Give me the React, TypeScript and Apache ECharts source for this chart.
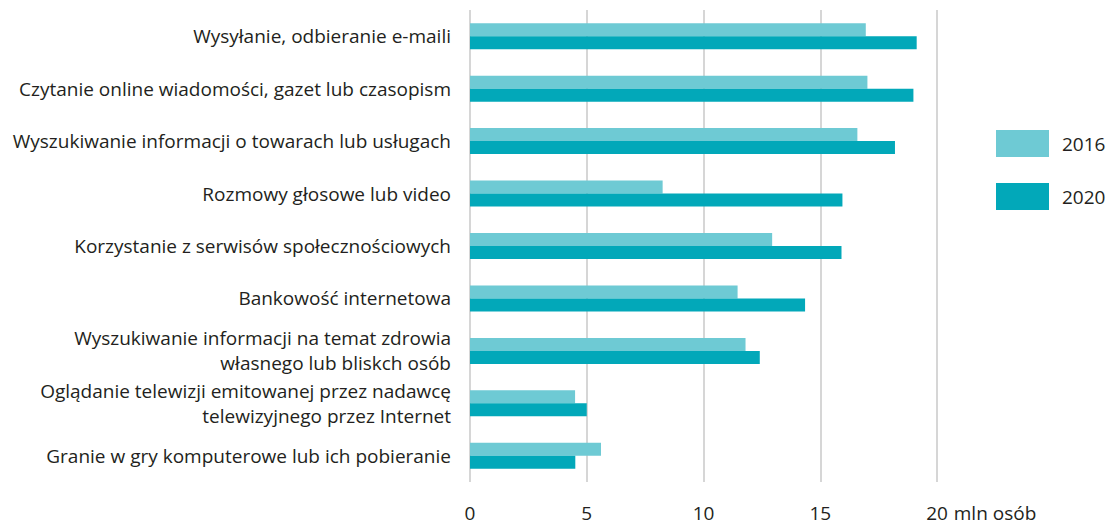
import React, { useEffect, useRef } from "react";
import * as echarts from "echarts";

const categories = [
  "Wysyłanie, odbieranie e-maili",
  "Czytanie online wiadomości, gazet lub czasopism",
  "Wyszukiwanie informacji o towarach lub usługach",
  "Rozmowy głosowe lub video",
  "Korzystanie z serwisów społecznościowych",
  "Bankowość internetowa",
  "Wyszukiwanie informacji na temat zdrowia\nwłasnego lub bliskch osób",
  "Oglądanie telewizji emitowanej przez nadawcę\ntelewizyjnego przez Internet",
  "Granie w gry komputerowe lub ich pobieranie",
];
const values2016 = [16.95, 17.02, 16.59, 8.25, 12.94, 11.46, 11.8, 4.5, 5.61];
const values2020 = [19.13, 18.99, 18.2, 15.95, 15.91, 14.35, 12.41, 5.0, 4.51];
const seriesNames = ["2016", "2020"];
const xTicks = [0, 5, 10, 15, 20];
const unitLabel = "mln osób";

const FONT = "'Open Sans', sans-serif";
const TEXT = "#231f20";

export default function App() {
  const ref = useRef<HTMLDivElement>(null);
  useEffect(() => {
    document.body.style.margin = "0";
    document.body.style.overflow = "hidden";
    if (!ref.current) return;
    const chart = echarts.init(ref.current, undefined, { renderer: "svg" });
    chart.setOption({
      animation: false,
      textStyle: { fontFamily: FONT },
      grid: { left: 470, right: 172, top: 10, bottom: 44, containLabel: false },
      legend: {
        orient: "vertical",
        left: 991,
        top: 125,
        itemWidth: 53,
        itemHeight: 27,
        itemGap: 26,
        icon: "rect",
        data: seriesNames,
        textStyle: {
          fontFamily: FONT,
          fontSize: 19,
          color: TEXT,
          padding: [0, 0, 0, 8],
        },
      },
      xAxis: {
        type: "value",
        min: xTicks[0],
        max: xTicks[xTicks.length - 1],
        interval: 5,
        axisLine: { show: false },
        axisTick: { show: false },
        splitLine: { show: true, lineStyle: { color: "#d6d6d6", width: 2 } },
        axisLabel: {
          margin: 22,
          fontFamily: FONT,
          fontSize: 19,
          lineHeight: 17,
          color: TEXT,
          formatter: (v: number) => String(v),
        },
        name: unitLabel,
        nameLocation: "end",
        nameGap: 12,
        nameTextStyle: {
          fontFamily: FONT,
          fontSize: 19,
          lineHeight: 17,
          color: TEXT,
          verticalAlign: "top",
          padding: [22, 0, 0, 0],
        },
      },
      yAxis: {
        type: "category",
        inverse: true,
        data: categories,
        axisLine: { show: false },
        axisTick: { show: false },
        axisLabel: {
          margin: 19,
          fontFamily: FONT,
          fontSize: 19,
          lineHeight: 25,
          color: TEXT,
          align: "right",
        },
      },
      series: [
        {
          name: seriesNames[0],
          type: "bar",
          data: values2016,
          barWidth: 13,
          barGap: "0%",
          itemStyle: { color: "#6ecad4" },
        },
        {
          name: seriesNames[1],
          type: "bar",
          data: values2020,
          barWidth: 13,
          barGap: "0%",
          itemStyle: { color: "#02a8b9" },
        },
      ],
    });
    return () => chart.dispose();
  }, []);
  return (
    <div
      ref={ref}
      style={{ position: "absolute", left: 0, top: 0, width: 1109, height: 526 }}
    />
  );
}
